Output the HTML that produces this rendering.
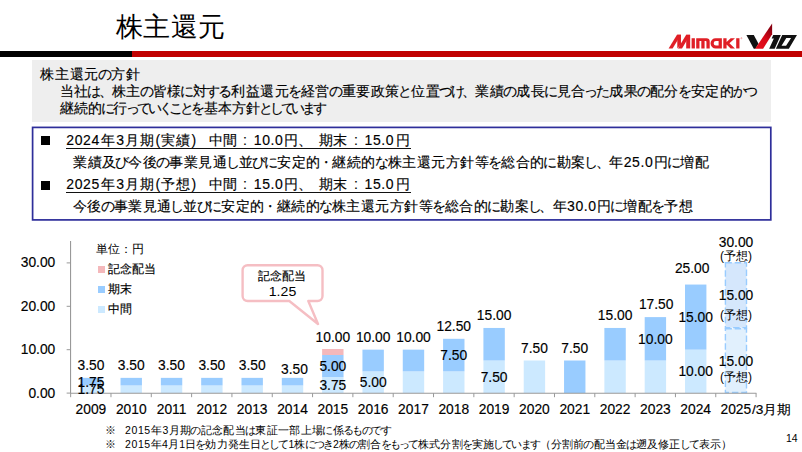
<!DOCTYPE html>
<html lang="ja">
<head>
<meta charset="utf-8">
<title>株主還元</title>
<style>
html,body{margin:0;padding:0;background:#fff;}
body{width:802px;height:452px;position:relative;overflow:hidden;font-family:"Liberation Sans",sans-serif;color:#000;-webkit-text-stroke:0.15px #000;}
.abs{position:absolute;white-space:nowrap;}
.title{-webkit-text-stroke:0;left:116px;top:9.3px;font-size:27px;letter-spacing:0.4px;line-height:36px;color:#000;}
.rule-k{left:0;top:51px;width:132px;height:6px;background:#000;}
.rule-r{left:132px;top:51px;width:670px;height:6px;background:#c00000;}
.gray{left:32px;top:60px;width:739px;height:62px;background:#eeeeee;}
.j{text-align:justify;text-align-last:justify;}
.g{font-size:14px;line-height:17px;}
.k{letter-spacing:-2.8px;margin-left:-1.4px;margin-right:1.4px;}
.bbox{left:31.8px;top:126.6px;width:739.8px;height:94.1px;border:1.6px solid #2e2e9a;box-sizing:border-box;}
.bul{width:9px;height:9px;background:#000;}
.b{font-size:14px;line-height:18px;}
.d{letter-spacing:0.6px;}
.ul{height:1px;background:#111;}
.fn{-webkit-text-stroke:0;font-size:10.5px;line-height:13px;}
.fn .k{letter-spacing:-2px;margin-left:-1px;margin-right:1px;}
.pg{-webkit-text-stroke:0;left:786px;top:431.5px;font-size:10.5px;line-height:12px;}
svg{position:absolute;left:0;top:0;}
svg text{font-family:"Liberation Sans",sans-serif;fill:#000;stroke:#000;stroke-width:0.15px;}
</style>
</head>
<body>
<div class="abs title">株主還元</div>
<div class="abs rule-k"></div>
<div class="abs rule-r"></div>
<div class="abs gray"></div>
<div class="abs j g" id="g1" style="left:40px;top:66.3px;width:100px">株主還元<span class="k">の</span>方針</div>
<div class="abs j g" id="g2" style="left:59.5px;top:82.8px;width:697.5px">当社<span class="k">は、</span>株主<span class="k">の</span>皆様<span class="k">に</span>対<span class="k">する</span>利益還元<span class="k">を</span>経営<span class="k">の</span>重要政策<span class="k">と</span>位置<span class="k">づけ、</span>業績<span class="k">の</span>成長<span class="k">に</span>見合<span class="k">った</span>成果<span class="k">の</span>配分<span class="k">を</span>安定的<span class="k">かつ</span></div>
<div class="abs j g" id="g3" style="left:60px;top:99.5px;width:265.5px">継続的<span class="k" style="letter-spacing:-3.3px;margin-left:-1.65px;margin-right:1.65px">に</span>行<span class="k" style="letter-spacing:-3.3px;margin-left:-1.65px;margin-right:1.65px">っていくことを</span>基本方針<span class="k" style="letter-spacing:-3.3px;margin-left:-1.65px;margin-right:1.65px">としています</span></div>
<div class="abs bul" style="left:41.2px;top:136.2px"></div>
<div class="abs bul" style="left:41.2px;top:180.6px"></div>
<div class="abs j b" style="left:66.25px;top:131px;width:130px;"><span class="d">2024</span>年3月期(実績)</div>
<div class="abs j b" style="left:208.75px;top:131px;width:28.25px;">中間</div>
<div class="abs j b" style="left:240px;top:131px;width:10px;text-align-last:center">:</div>
<div class="abs j b" style="left:253.75px;top:131px;width:44.25px;"><span class="d">10.0</span>円</div>
<div class="abs j b" style="left:298px;top:131px;width:10px;text-align-last:left">、</div>
<div class="abs j b" style="left:319.25px;top:131px;width:25.75px;">期末</div>
<div class="abs j b" style="left:351px;top:131px;width:10px;text-align-last:center">:</div>
<div class="abs j b" style="left:364.5px;top:131px;width:45.5px;"><span class="d">15.0</span>円</div>
<div class="abs ul" id="b1" style="left:66px;top:148px;width:344.5px"></div>
<div class="abs j b" id="b2" style="left:73px;top:153px;width:635.5px">業績及<span class="k">び</span>今後<span class="k">の</span>事業見通<span class="k">し</span>並<span class="k">びに</span>安定的<span class="k">・</span>継続的<span class="k">な</span>株主還元方針等<span class="k">を</span>総合的<span class="k">に</span>勘案<span class="k">し、</span>年<span class="d">25.0</span>円<span class="k">に</span>増配</div>
<div class="abs j b" style="left:66.25px;top:175px;width:130px;"><span class="d">2025</span>年3月期(予想)</div>
<div class="abs j b" style="left:208.75px;top:175px;width:28.25px;">中間</div>
<div class="abs j b" style="left:240px;top:175px;width:10px;text-align-last:center">:</div>
<div class="abs j b" style="left:253.75px;top:175px;width:44.25px;"><span class="d">15.0</span>円</div>
<div class="abs j b" style="left:298px;top:175px;width:10px;text-align-last:left">、</div>
<div class="abs j b" style="left:319.25px;top:175px;width:25.75px;">期末</div>
<div class="abs j b" style="left:351px;top:175px;width:10px;text-align-last:center">:</div>
<div class="abs j b" style="left:364.5px;top:175px;width:45.5px;"><span class="d">15.0</span>円</div>
<div class="abs ul" id="b3" style="left:66px;top:192px;width:344.5px"></div>
<div class="abs j b" id="b4" style="left:73px;top:197px;width:619.5px">今後<span class="k">の</span>事業見通<span class="k">し</span>並<span class="k">びに</span>安定的<span class="k">・</span>継続的<span class="k">な</span>株主還元方針等<span class="k">を</span>総合的<span class="k">に</span>勘案<span class="k">し、</span>年<span class="d">30.0</span>円<span class="k">に</span>増配<span class="k">を</span>予想</div>
<svg id="chart" width="802" height="452" viewBox="0 0 802 452">
<rect x="80.21" y="385.45" width="21.40" height="7.55" fill="#cce9ff"/>
<rect x="80.21" y="377.86" width="21.40" height="7.59" fill="#99ccff"/>
<rect x="120.53" y="385.45" width="21.40" height="7.55" fill="#cce9ff"/>
<rect x="120.53" y="377.86" width="21.40" height="7.59" fill="#99ccff"/>
<rect x="160.85" y="385.45" width="21.40" height="7.55" fill="#cce9ff"/>
<rect x="160.85" y="377.86" width="21.40" height="7.59" fill="#99ccff"/>
<rect x="201.17" y="385.45" width="21.40" height="7.55" fill="#cce9ff"/>
<rect x="201.17" y="377.86" width="21.40" height="7.59" fill="#99ccff"/>
<rect x="241.49" y="385.45" width="21.40" height="7.55" fill="#cce9ff"/>
<rect x="241.49" y="377.86" width="21.40" height="7.59" fill="#99ccff"/>
<rect x="281.81" y="385.45" width="21.40" height="7.55" fill="#cce9ff"/>
<rect x="281.81" y="377.86" width="21.40" height="7.59" fill="#99ccff"/>
<rect x="322.13" y="377.00" width="21.40" height="16.00" fill="#cce9ff"/>
<rect x="322.13" y="355.00" width="21.40" height="22.00" fill="#99ccff"/>
<rect x="322.13" y="349.00" width="21.40" height="6.00" fill="#f4b8bb"/>
<rect x="362.45" y="371.35" width="21.40" height="21.65" fill="#cce9ff"/>
<rect x="362.45" y="349.65" width="21.40" height="21.70" fill="#99ccff"/>
<rect x="402.77" y="371.35" width="21.40" height="21.65" fill="#cce9ff"/>
<rect x="402.77" y="349.65" width="21.40" height="21.70" fill="#99ccff"/>
<rect x="443.09" y="371.35" width="21.40" height="21.65" fill="#cce9ff"/>
<rect x="443.09" y="338.80" width="21.40" height="32.55" fill="#99ccff"/>
<rect x="483.41" y="360.50" width="21.40" height="32.50" fill="#cce9ff"/>
<rect x="483.41" y="327.95" width="21.40" height="32.55" fill="#99ccff"/>
<rect x="523.73" y="360.50" width="21.40" height="32.50" fill="#cce9ff"/>
<rect x="564.05" y="360.50" width="21.40" height="32.55" fill="#99ccff"/>
<rect x="604.37" y="360.50" width="21.40" height="32.50" fill="#cce9ff"/>
<rect x="604.37" y="327.95" width="21.40" height="32.55" fill="#99ccff"/>
<rect x="644.69" y="360.50" width="21.40" height="32.50" fill="#cce9ff"/>
<rect x="644.69" y="317.10" width="21.40" height="43.40" fill="#99ccff"/>
<rect x="685.01" y="349.65" width="21.40" height="43.35" fill="#cce9ff"/>
<rect x="685.01" y="284.55" width="21.40" height="65.10" fill="#99ccff"/>
<rect x="725.40" y="262.70" width="21.10" height="65.00" fill="#d5e7fc" stroke="#99ccff" stroke-width="1.4" stroke-dasharray="6.5 2.8"/>
<rect x="725.40" y="328.70" width="21.10" height="63.80" fill="#e1f0fd" stroke="#99ccff" stroke-width="1.4" stroke-dasharray="6.5 2.8"/>
<path d="M70.55 241 V393.70 M70.05 393.20 H756.4" stroke="#999999" stroke-width="1.1" fill="none"/>
<path d="M66.65 393.10 H70.55 M66.65 349.70 H70.55 M66.65 306.30 H70.55 M66.65 262.90 H70.55 M70.65 393.20 V397.20 M110.97 393.20 V397.20 M151.29 393.20 V397.20 M191.61 393.20 V397.20 M231.93 393.20 V397.20 M272.25 393.20 V397.20 M312.57 393.20 V397.20 M352.89 393.20 V397.20 M393.21 393.20 V397.20 M433.53 393.20 V397.20 M473.85 393.20 V397.20 M514.17 393.20 V397.20 M554.49 393.20 V397.20 M594.81 393.20 V397.20 M635.13 393.20 V397.20 M675.45 393.20 V397.20 M715.77 393.20 V397.20 M756.09 393.20 V397.20" stroke="#999999" stroke-width="1" fill="none"/>
<text x="55.30" y="397.50" font-size="13.8" text-anchor="end">0.00</text>
<text x="55.30" y="354.10" font-size="13.8" text-anchor="end">10.00</text>
<text x="55.30" y="310.70" font-size="13.8" text-anchor="end">20.00</text>
<text x="55.30" y="267.30" font-size="13.8" text-anchor="end">30.00</text>
<text x="90.91" y="413.80" font-size="13.8" text-anchor="middle">2009</text>
<text x="131.23" y="413.80" font-size="13.8" text-anchor="middle">2010</text>
<text x="171.55" y="413.80" font-size="13.8" text-anchor="middle">2011</text>
<text x="211.87" y="413.80" font-size="13.8" text-anchor="middle">2012</text>
<text x="252.19" y="413.80" font-size="13.8" text-anchor="middle">2013</text>
<text x="292.51" y="413.80" font-size="13.8" text-anchor="middle">2014</text>
<text x="332.83" y="413.80" font-size="13.8" text-anchor="middle">2015</text>
<text x="373.15" y="413.80" font-size="13.8" text-anchor="middle">2016</text>
<text x="413.47" y="413.80" font-size="13.8" text-anchor="middle">2017</text>
<text x="453.79" y="413.80" font-size="13.8" text-anchor="middle">2018</text>
<text x="494.11" y="413.80" font-size="13.8" text-anchor="middle">2019</text>
<text x="534.43" y="413.80" font-size="13.8" text-anchor="middle">2020</text>
<text x="574.75" y="413.80" font-size="13.8" text-anchor="middle">2021</text>
<text x="615.07" y="413.80" font-size="13.8" text-anchor="middle">2022</text>
<text x="655.39" y="413.80" font-size="13.8" text-anchor="middle">2023</text>
<text x="695.71" y="413.80" font-size="13.8" text-anchor="middle">2024</text>
<text x="720.50" y="413.80" font-size="13.8" text-anchor="start">2025</text>
<text x="752.00" y="414.30" font-size="13" text-anchor="start" textLength="39" lengthAdjust="spacingAndGlyphs">/3月期</text>
<text x="90.91" y="369.80" font-size="13.8" text-anchor="middle">3.50</text>
<text x="131.23" y="369.80" font-size="13.8" text-anchor="middle">3.50</text>
<text x="171.55" y="369.80" font-size="13.8" text-anchor="middle">3.50</text>
<text x="211.87" y="369.80" font-size="13.8" text-anchor="middle">3.50</text>
<text x="252.19" y="369.80" font-size="13.8" text-anchor="middle">3.50</text>
<text x="332.83" y="341.80" font-size="13.8" text-anchor="middle">10.00</text>
<text x="373.15" y="341.80" font-size="13.8" text-anchor="middle">10.00</text>
<text x="413.47" y="341.80" font-size="13.8" text-anchor="middle">10.00</text>
<text x="453.79" y="330.80" font-size="13.8" text-anchor="middle">12.50</text>
<text x="494.11" y="319.80" font-size="13.8" text-anchor="middle">15.00</text>
<text x="534.43" y="353.20" font-size="13.8" text-anchor="middle">7.50</text>
<text x="574.75" y="353.20" font-size="13.8" text-anchor="middle">7.50</text>
<text x="615.07" y="319.80" font-size="13.8" text-anchor="middle">15.00</text>
<text x="656.19" y="309.20" font-size="13.8" text-anchor="middle">17.50</text>
<text x="692.21" y="272.80" font-size="13.8" text-anchor="middle">25.00</text>
<text x="294.51" y="374.40" font-size="13.8" text-anchor="middle">3.50</text>
<text x="736.03" y="246.80" font-size="13.8" text-anchor="middle">30.00</text>
<text x="90.91" y="387.10" font-size="13.8" text-anchor="middle">1.75</text>
<text x="90.91" y="394.40" font-size="13.8" text-anchor="middle">1.75</text>
<text x="332.83" y="370.60" font-size="13.8" text-anchor="middle">5.00</text>
<text x="332.83" y="389.80" font-size="13.8" text-anchor="middle">3.75</text>
<text x="373.15" y="386.60" font-size="13.8" text-anchor="middle">5.00</text>
<text x="453.79" y="359.80" font-size="13.8" text-anchor="middle">7.50</text>
<text x="494.11" y="381.80" font-size="13.8" text-anchor="middle">7.50</text>
<text x="655.39" y="343.80" font-size="13.8" text-anchor="middle">10.00</text>
<text x="695.71" y="321.80" font-size="13.8" text-anchor="middle">15.00</text>
<text x="695.71" y="376.10" font-size="13.8" text-anchor="middle">10.00</text>
<text x="736.03" y="299.80" font-size="13.8" text-anchor="middle">15.00</text>
<text x="736.03" y="366.00" font-size="13.8" text-anchor="middle">15.00</text>
<text x="736.03" y="259.50" font-size="12" text-anchor="middle" style="stroke:none">(予想)</text>
<text x="736.03" y="319.30" font-size="12" text-anchor="middle" style="stroke:none">(予想)</text>
<text x="736.03" y="380.50" font-size="12" text-anchor="middle" style="stroke:none">(予想)</text>
<text x="96.30" y="252.50" font-size="12" text-anchor="start" style="stroke:none">単位：円</text>
<rect x="98.00" y="266.00" width="7.00" height="7.00" fill="#f4b8bb"/>
<text x="107.80" y="273.30" font-size="11.5" text-anchor="start">記念配当</text>
<rect x="98.00" y="286.00" width="7.00" height="7.00" fill="#99ccff"/>
<text x="107.80" y="293.30" font-size="11.5" text-anchor="start">期末</text>
<rect x="98.00" y="306.00" width="7.00" height="7.00" fill="#cce9ff"/>
<text x="107.80" y="313.30" font-size="11.5" text-anchor="start">中間</text>
<path d="M247.6 265.2 H317.5 a5 5 0 0 1 5 5 V296 a5 5 0 0 1 -5 5 H308.3 L318 324 L289.3 301 H247.6 a5 5 0 0 1 -5 -5 V270.2 a5 5 0 0 1 5 -5 Z" fill="#fff" stroke="#f5bec3" stroke-width="2.4" stroke-linejoin="round"/>
<text x="282.30" y="280.40" font-size="12" text-anchor="middle">記念配当</text>
<text x="282.50" y="295.80" font-size="12.5" text-anchor="middle" textLength="27.5" lengthAdjust="spacingAndGlyphs" style="stroke:none">1.25</text>
<rect x="32.6" y="127.4" width="738.2" height="92.5" fill="none" stroke="#2e2e9a" stroke-width="1.7"/>
<g transform="translate(664,28) scale(0.10225)" fill="#e01f26">
<polygon points="45,200 84,200 166,67 127,67"/>
<polygon points="130,67 166,67 166,160 130,200"/>
<polygon points="136,200 176,200 256,67 217,67"/>
<polygon points="217,67 256,67 256,200 217,200"/>
<rect x="270" y="100" width="32" height="100"/>
<path d="M315 100 H415 a32 32 0 0 1 32 32 V200 H415 V134 a6 6 0 0 0 -6 -6 H397 V200 H365 V128 H347 V200 H315 Z"/>
<path fill-rule="evenodd" d="M505 100 H566 V200 H505 a50 50 0 0 1 0 -100 Z M508 128 a22 22 0 0 0 0 44 H534 V128 Z"/>
<path d="M580 100 H612 V138 L652 100 H694 L640 150 L694 200 H652 L612 162 V200 H580 Z"/>
<rect x="706" y="100" width="32" height="100"/>
<circle cx="757" cy="100" r="6" fill="none" stroke="#e01f26" stroke-width="3"/>
</g>
<defs><linearGradient id="vg" x1="0" y1="1" x2="0.6" y2="0"><stop offset="0" stop-color="#e8101c"/><stop offset="0.55" stop-color="#d80818"/><stop offset="1" stop-color="#8a0010"/></linearGradient></defs>
<g transform="translate(742,18) scale(0.07968)">
<polygon fill="#111" points="55,212 148,212 207,322 168,386 148,386"/>
<polygon fill="url(#vg)" points="165,386 265,386 378,205 378,68"/>
<polygon fill="#111" points="392,212 487,212 410,386 341,386 400,256 372,256"/>
<path fill="#111" fill-rule="evenodd" d="M505 212 H690 L588 386 H425 Z M556 252 H616 L553 348 H496 Z"/>
</g>
</svg>
<div class="abs fn" style="left:104.5px;top:424px">※</div>
<div class="abs fn" style="left:104.5px;top:437.8px">※</div>
<div class="abs j fn" id="f1" style="left:125px;top:424px;width:265.5px"><span class="d">2015</span>年3月期<span class="k">の</span>記念配当<span class="k">は</span>東証一部上場<span class="k">に</span>係<span class="k">るものです</span></div>
<div class="abs j fn" id="f2" style="left:125px;top:437.8px;width:607px"><span class="d">2015</span>年4月1日<span class="k">を</span>効力発生日<span class="k">として</span>1株<span class="k">につき</span>2株<span class="k">の</span>割合<span class="k">をもって</span>株式分割<span class="k">を</span>実施<span class="k">しています</span>（分割前<span class="k">の</span>配当金<span class="k">は</span>遡及修正<span class="k">して</span>表示）</div>
<div class="abs pg">14</div>
</body>
</html>
